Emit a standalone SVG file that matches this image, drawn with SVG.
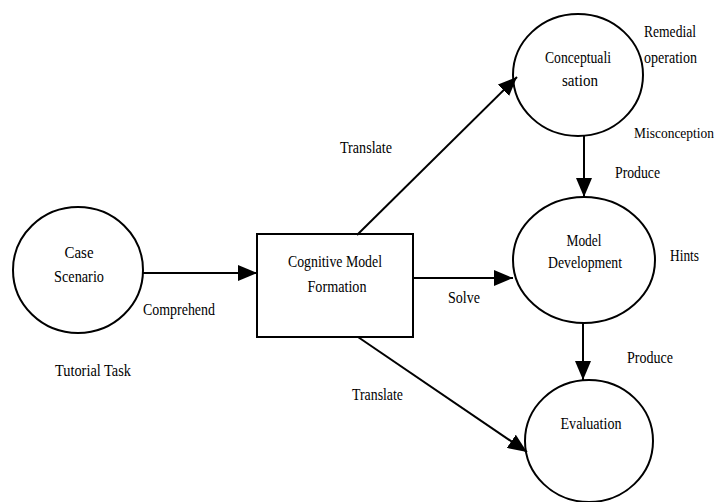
<svg xmlns="http://www.w3.org/2000/svg" width="720" height="502" viewBox="0 0 720 502">
  <style>
    .node { fill: none; stroke: #000; stroke-width: 2; }
    .edge { fill: none; stroke: #000; stroke-width: 2; }
    text { font-family: "Liberation Serif", "Times New Roman", serif; font-size: 17px; fill: #000; }
    .c { text-anchor: middle; }
    .tight { font-size: 14px; }
  </style>
  <defs>
    <marker id="arrow" markerUnits="userSpaceOnUse" markerWidth="20" markerHeight="16" refX="19" refY="8" orient="auto">
      <path d="M0,0 L19,8 L0,16 z" fill="#000"/>
    </marker>
  </defs>
  <rect width="720" height="502" fill="#fff"/>

  <g id="connectors">
    <line class="edge" x1="143" y1="273" x2="257" y2="273" marker-end="url(#arrow)"/>
    <line class="edge" x1="357" y1="235" x2="517" y2="77" marker-end="url(#arrow)"/>
    <line class="edge" x1="413" y1="278" x2="513" y2="278" marker-end="url(#arrow)"/>
    <line class="edge" x1="358" y1="337" x2="527" y2="452" marker-end="url(#arrow)"/>
    <line class="edge" x1="584" y1="136" x2="584" y2="197" marker-end="url(#arrow)"/>
    <line class="edge" x1="583" y1="322" x2="583" y2="380" marker-end="url(#arrow)"/>
  </g>

  <g id="case-scenario">
    <ellipse class="node" cx="78" cy="270" rx="65" ry="63"/>
    <text class="c" x="79" y="258" textLength="29" lengthAdjust="spacingAndGlyphs">Case</text>
    <text class="c" x="79" y="282" textLength="50" lengthAdjust="spacingAndGlyphs">Scenario</text>
  </g>

  <g id="cognitive-model">
    <rect class="node" x="257" y="234" width="156" height="103"/>
    <text class="c" x="335" y="267" textLength="94" lengthAdjust="spacingAndGlyphs">Cognitive Model</text>
    <text class="c" x="337" y="292" textLength="59" lengthAdjust="spacingAndGlyphs">Formation</text>
  </g>

  <g id="conceptualisation">
    <ellipse class="node" cx="578" cy="75" rx="65" ry="61"/>
    <text class="c" x="578" y="63" textLength="66" lengthAdjust="spacingAndGlyphs">Conceptuali</text>
    <text class="c" x="580" y="86" textLength="36" lengthAdjust="spacingAndGlyphs">sation</text>
  </g>

  <g id="model-development">
    <ellipse class="node" cx="584" cy="260" rx="71" ry="63"/>
    <text class="c" x="584" y="246" textLength="35" lengthAdjust="spacingAndGlyphs">Model</text>
    <text class="c" x="585" y="268" textLength="74" lengthAdjust="spacingAndGlyphs">Development</text>
  </g>

  <g id="evaluation">
    <ellipse class="node" cx="589" cy="441" rx="64" ry="61"/>
    <text class="c" x="591" y="429" textLength="61" lengthAdjust="spacingAndGlyphs">Evaluation</text>
  </g>

  <g id="labels">
    <text x="143" y="315" textLength="72" lengthAdjust="spacingAndGlyphs">Comprehend</text>
    <text x="55" y="376" textLength="76" lengthAdjust="spacingAndGlyphs">Tutorial Task</text>
    <text x="340" y="153" textLength="52" lengthAdjust="spacingAndGlyphs">Translate</text>
    <text x="448" y="303" textLength="32" lengthAdjust="spacingAndGlyphs">Solve</text>
    <text x="352" y="400" textLength="51" lengthAdjust="spacingAndGlyphs">Translate</text>
    <text x="644" y="37" textLength="52" lengthAdjust="spacingAndGlyphs">Remedial</text>
    <text x="644" y="63" textLength="53" lengthAdjust="spacingAndGlyphs">operation</text>
    <text class="tight" x="634" y="138" textLength="80" lengthAdjust="spacingAndGlyphs">Misconception</text>
    <text x="615" y="178" textLength="45" lengthAdjust="spacingAndGlyphs">Produce</text>
    <text x="670" y="261" textLength="29" lengthAdjust="spacingAndGlyphs">Hints</text>
    <text x="627" y="363" textLength="46" lengthAdjust="spacingAndGlyphs">Produce</text>
  </g>
</svg>
